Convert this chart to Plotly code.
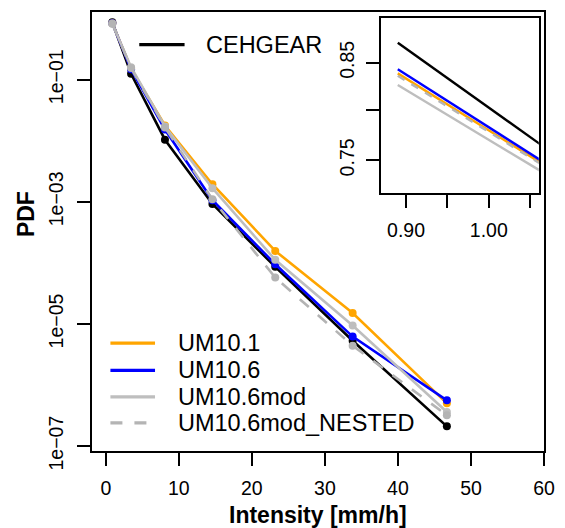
import plotly.graph_objects as go

# ---- data ----
intensity = [0.89, 3.46, 8.1, 14.6, 23.2, 33.8, 46.7]
cehgear = [0.872, 0.125, 0.0104, 0.00092, 8.6e-5, 5.3e-6, 2.1e-7]
um101 = [0.8385, 0.152, 0.0178, 0.00194, 1.57e-4, 1.51e-5, 5.0e-7]
um106 = [0.843, 0.148, 0.0153, 0.00106, 9.5e-5, 6.2e-6, 5.6e-7]
um106mod = [0.826, 0.160, 0.0171, 0.00167, 1.12e-4, 9.4e-6, 3.6e-7]
um106mod_nested = [0.836, 0.155, 0.0165, 0.00110, 5.75e-5, 4.4e-6, 3.2e-7]

series_names = ["CEHGEAR", "UM10.1", "UM10.6", "UM10.6mod", "UM10.6mod_NESTED"]
series_vals = [cehgear, um101, um106, um106mod, um106mod_nested]
series_cols = ["#000000", "#FFA500", "#0000FF", "#BEBEBE", "#B4B4B4"]
series_dash = ["solid", "solid", "solid", "solid", "12px,12px"]

y_tickvals = [1e-1, 1e-3, 1e-5, 1e-7]
y_ticktext = ["1e\u221201", "1e\u221203", "1e\u221205", "1e\u221207"]
x_tickvals = [0, 10, 20, 30, 40, 50, 60]

inset_xticks = [0.90, 0.95, 1.00, 1.05]
inset_xtext = ["0.90", "", "1.00", ""]
inset_yticks = [0.75, 0.80, 0.85]
inset_ytext = ["0.75", "", "0.85"]

FONT = "Liberation Sans, Arial, sans-serif"
W, H = 565, 528
ML, MR, MT, MB = 92, 14, 10, 77
PW, PH = W - ML - MR, H - MT - MB


def px2paper(x, y):
    return (x - ML) / PW, (H - MB - y) / PH


fig = go.Figure()

# main plot
for name, vals, col, dash in zip(series_names, series_vals, series_cols, series_dash):
    fig.add_trace(go.Scatter(
        x=intensity, y=vals, mode="lines+markers", name=name,
        line=dict(color=col, width=2.6, dash=dash),
        marker=dict(color=col, size=8),
        xaxis="x", yaxis="y", showlegend=False))

# inset
for name, vals, col, dash in zip(series_names, series_vals, series_cols, series_dash):
    fig.add_trace(go.Scatter(
        x=intensity[:2], y=vals[:2], mode="lines", name=name,
        line=dict(color=col, width=2.4, dash="8px,8px" if dash != "solid" else "solid"),
        xaxis="x2", yaxis="y2", showlegend=False))

axis_common = dict(showline=True, linecolor="black", linewidth=1.8, mirror=True,
                   ticks="outside", tickcolor="black", tickwidth=1.8, ticklen=13,
                   showgrid=False, zeroline=False,
                   tickfont=dict(family=FONT, size=19.5, color="black"))

fig.update_layout(
    width=W, height=H,
    margin=dict(l=ML, r=MR, t=MT, b=MB),
    paper_bgcolor="white", plot_bgcolor="white",
    xaxis=dict(domain=[0, 1], range=[-1.89, 60], tickvals=x_tickvals,
               ticklabelstandoff=6, **axis_common),
    yaxis=dict(domain=[0, 1], type="log", range=[-7.0815, 0.1087],
               tickvals=y_tickvals, ticktext=y_ticktext, tickangle=-90,
               ticklabelstandoff=6, **axis_common),
    xaxis2=dict(domain=[0.6399, 0.9885], anchor="y2", range=[0.870, 1.0604],
                tickvals=inset_xticks, ticktext=inset_xtext,
                ticklabelstandoff=6, **axis_common),
    yaxis2=dict(domain=[0.5880, 0.9871], anchor="x2", type="log",
                range=[-0.14308, -0.04545],
                tickvals=inset_yticks, ticktext=inset_ytext, tickangle=-90,
                ticklabelstandoff=5, **axis_common),
    showlegend=False,
)

shapes = []
annotations = []

# axis titles
tx, ty = px2paper(321, 515)
annotations.append(dict(text="<b>Intensity [mm/h]</b>", x=tx, y=ty, xref="paper", yref="paper",
                        showarrow=False, xanchor="center", yanchor="middle",
                        font=dict(family=FONT, size=23, color="black")))
tx, ty = px2paper(25, 213)
annotations.append(dict(text="<b>PDF</b>", x=tx, y=ty, xref="paper", yref="paper",
                        showarrow=False, xanchor="center", yanchor="middle", textangle=-90,
                        font=dict(family=FONT, size=23, color="black")))

# legends drawn as line samples + text
leg_items = [
    (0, 140, 186, 206, 42.7),
    (1, 110.7, 156, 177.3, 342.7),
    (2, 110.7, 156, 177.3, 370.0),
    (3, 110.7, 156, 177.3, 396.7),
    (4, 110.7, 156, 177.3, 422.7),
]
for idx, x0, x1, xt, yy in leg_items:
    p0x, p0y = px2paper(x0, yy)
    p1x, _ = px2paper(x1, yy)
    shapes.append(dict(type="line", xref="paper", yref="paper", x0=p0x, x1=p1x, y0=p0y, y1=p0y,
                       line=dict(color=series_cols[idx], width=3.2,
                                 dash=series_dash[idx])))
    ptx, _ = px2paper(xt, yy)
    annotations.append(dict(text=series_names[idx], x=ptx, y=p0y, xref="paper", yref="paper",
                            showarrow=False, xanchor="left", yanchor="middle",
                            font=dict(family=FONT, size=23.5, color="black")))

fig.update_layout(shapes=shapes, annotations=annotations)
fig.write_html("out.html")
